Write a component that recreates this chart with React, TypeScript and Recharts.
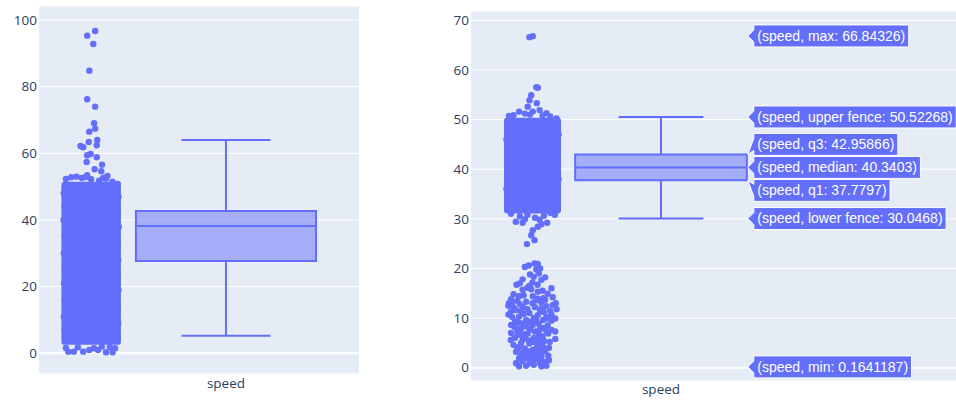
import { ComposedChart, XAxis, YAxis, CartesianGrid, Scatter, ReferenceArea, ReferenceLine } from 'recharts'

const CATEGORY = 'speed'
const BLUE = '#636efa'
const PLOT_BG = '#e5ecf6'
const TICK_COLOR = '#2a3f5f'
const TICK_FONT = '"Open Sans", verdana, arial, sans-serif'
const HOVER_FONT = 'Arial, "Liberation Sans", sans-serif'

// x layout in category units: box sits at 0, the jittered points sit at -1
const POINTS_X = -1
const BOX_HALF = 0.668
const WHISKER_HALF = 0.33
const JITTER_HALF = 0.197

// ---- left panel ----
const leftYTicks = [0, 20, 40, 60, 80, 100]
const leftBox = { lowerWhisker: 5.3, q1: 27.7, median: 38.2, q3: 42.7, upperWhisker: 64.0 }
// value spans where points are packed solid
const leftDense: [number, number][] = [[3.5, 50.5]]
// [jitter (-1..1), speed]
const leftPoints: [number, number][] = [
  [-0.15, 95.3], [0.15, 96.7], [0.08, 92.8], [-0.07, 84.8], [-0.15, 76.2], [0.15, 74.0],
  [0.11, 69.0], [0.15, 67.4], [-0.07, 66.5], [0.23, 64.0], [-0.09, 63.4], [0.21, 62.4],
  [-0.4, 62.2], [-0.3, 61.8], [-0.02, 59.8], [-0.15, 59.4], [0.21, 58.8], [-0.17, 57.4],
  [0.41, 56.6], [0.13, 55.2], [0.38, 54.6], [-0.15, 53.4], [0.61, 53.2], [0.56, 52.4], [1.0, 50.8],
  [-0.95, 52.3], [-0.75, 52.8], [-0.55, 53.0], [-0.35, 52.6], [-0.2, 52.9], [0.0, 52.2],
  [0.3, 51.8], [0.45, 52.6], [0.8, 51.5],
  [-0.86, 0.5], [-0.65, 0.5], [-0.3, 0.5], [-0.07, 1.0], [0.26, 1.0], [0.56, 0.3], [0.81, 0.3],
  [0.9, 1.5], [-0.5, 1.8], [0.4, 2.0], [0.1, 1.5], [-0.95, 1.6], [0.7, 1.9],
  // ragged sides of the packed block
  [-1.03, 48], [-1.0, 44], [-1.04, 40], [-1.0, 35], [-1.03, 30], [-1.0, 26], [-1.02, 21],
  [-1.0, 16], [-1.03, 11], [-1.0, 7], [1.03, 47], [1.0, 42], [1.04, 38], [1.0, 33],
  [1.02, 28], [1.0, 23], [1.03, 19], [1.0, 14], [1.02, 9], [1.0, 5],
]

// ---- right panel ----
const rightYTicks = [0, 10, 20, 30, 40, 50, 60, 70]
const rightBox = { lowerWhisker: 30.0468, q1: 37.7797, median: 40.3403, q3: 42.95866, upperWhisker: 50.52268 }
const rightDense: [number, number][] = [[31.7, 49.7]]
const rightPoints: [number, number][] = [
  [-0.12, 66.6], [0.01, 66.8], [0.15, 56.5], [0.21, 56.4], [-0.05, 54.9], [-0.12, 53.9],
  [0.17, 53.3], [-0.19, 52.6], [-0.53, 51.6], [0.55, 51.3], [-0.93, 50.7], [0.95, 50.2],
  [0.28, 51.9], [0.01, 51.6], [-0.75, 50.9], [-0.3, 51.2], [0.7, 50.6], [-0.1, 51.0], [0.4, 50.8],
  [-0.99, 31.8], [-0.66, 29.4], [-0.39, 29.2], [0.28, 29.8], [0.58, 29.2], [0.88, 30.8],
  [0.01, 27.7], [0.21, 28.4], [-0.05, 26.7], [0.08, 25.7], [-0.22, 24.9], [-0.85, 31.0],
  [-0.5, 30.5], [-0.2, 30.8], [0.1, 30.2], [0.45, 30.6], [0.7, 31.2], [-0.3, 29.9], [0.35, 28.9],
  [-1.03, 46], [-1.0, 41], [-1.03, 36], [1.03, 47], [1.0, 43], [1.03, 38], [1.0, 34],
  [0.08, 21.0], [0.21, 20.9], [0.15, 19.8], [-0.1, 18.8], [0.25, 19.0], [-0.39, 17.8],
  [0.35, 17.7], [-0.63, 16.7], [-0.12, 16.5], [0.75, 16.0], [-0.39, 15.7], [0.21, 15.3],
  [-0.53, 14.4], [0.01, 14.4], [0.42, 14.0], [-0.93, 13.0], [-0.25, 13.3], [0.15, 13.6],
  [0.92, 13.0], [-0.73, 12.0], [-0.39, 12.3], [0.35, 12.0], [0.55, 12.4], [0.95, 11.8],
  [-0.86, 11.3], [-0.12, 11.0], [0.21, 10.6], [-0.53, 10.3], [-0.69, 9.3], [-0.25, 9.6],
  [0.42, 9.6], [0.75, 9.5], [0.01, 8.6], [-0.46, 7.9], [0.28, 7.6], [-0.19, 6.9], [0.62, 6.9],
  [-0.59, 6.6], [-0.86, 5.6], [-0.39, 5.7], [0.21, 5.6], [0.68, 5.2], [-0.12, 4.9], [-0.53, 4.2],
  [0.42, 4.2], [0.01, 3.6], [-0.39, 3.0], [0.28, 3.0], [0.62, 2.4], [-0.53, 1.9], [-0.12, 1.9],
  [0.21, 1.7], [-0.53, 0.3], [-0.12, 0.9], [0.35, 0.3], [0.55, 0.4],
  [-0.3, 20.3], [0.0, 17.2], [0.5, 18.2], [-0.75, 14.8], [-0.05, 15.8], [0.6, 14.9],
  [-0.6, 13.5], [0.35, 13.2], [-0.95, 12.5], [0.1, 12.2], [0.8, 12.6], [-0.45, 11.4],
  [0.45, 11.2], [0.75, 10.7], [-0.8, 10.2], [0.05, 10.0], [-0.35, 8.9], [0.6, 8.5],
  [-0.7, 8.2], [0.25, 8.8], [-0.1, 7.7], [0.75, 7.6], [-0.85, 7.0], [0.4, 6.3], [-0.3, 6.1],
  [0.05, 6.0], [0.9, 5.8], [-0.75, 4.6], [0.2, 4.4], [0.65, 4.0], [-0.3, 3.9], [-0.65, 3.2],
  [0.5, 3.3], [-0.15, 2.6], [0.1, 2.3], [-0.4, 1.3], [0.45, 1.2], [0.05, 0.6], [-0.25, 0.4], [0.65, 1.5],
  [-0.8, 12.9], [-0.5, 12.8], [0.0, 13.0], [0.5, 13.7], [0.7, 11.4], [-0.65, 11.6], [-0.2, 11.8],
  [0.3, 11.5], [-0.95, 10.7], [-0.35, 10.8], [0.55, 10.2], [0.9, 9.9], [-0.55, 9.1], [-0.1, 9.2],
  [0.15, 9.5], [0.6, 9.9], [-0.85, 8.6], [-0.25, 8.3], [0.45, 8.0], [0.9, 7.3], [-0.6, 7.4],
  [0.1, 7.3], [0.55, 7.4], [-0.4, 6.8], [0.25, 6.5], [-0.7, 6.0], [-0.15, 5.5], [0.45, 5.4],
  [-0.45, 5.0], [0.05, 5.2], [0.35, 4.8], [-0.6, 3.8], [0.15, 3.9], [0.4, 3.7], [-0.2, 3.3],
  [0.05, 2.9], [-0.45, 2.4], [0.35, 2.3], [-0.3, 1.9], [0.1, 1.8], [-0.65, 0.9], [0.3, 0.9],
  [-0.05, 1.3], [0.2, 13.9], [-0.35, 14.6], [0.4, 15.5], [-0.2, 16.1], [0.2, 16.7], [-0.5, 17.0],
  [0.05, 18.3], [0.3, 20.0], [-0.15, 20.6], [-0.85, 13.8], [0.8, 14.2],
]
const rightHoverNames = ['max', 'upper fence', 'q3', 'median', 'q1', 'lower fence', 'min']
const rightHoverValues = [66.84326, 50.52268, 42.95866, 40.3403, 37.7797, 30.0468, 0.1641187]

const LABEL_H = 22
const LABEL_GAP = 23

let measureCtx: CanvasRenderingContext2D | null = null
function textWidth(text: string, font: string) {
  if (!measureCtx) measureCtx = document.createElement('canvas').getContext('2d')
  if (!measureCtx) return text.length * 7
  measureCtx.font = font
  return measureCtx.measureText(text).width
}

// push overlapping hover labels apart, like plotly does
function spreadLabels(values: number[], pxPerUnit: number, gap: number) {
  const items = values.map((v, i) => ({ i, pos: -v * pxPerUnit })).sort((a, b) => a.pos - b.pos)
  let groups = items.map((it) => ({ members: [it], center: it.pos }))
  let merged = true
  while (merged) {
    merged = false
    for (let k = 0; k < groups.length - 1; k++) {
      const a = groups[k]
      const b = groups[k + 1]
      const aBottom = a.center + ((a.members.length - 1) * gap) / 2
      const bTop = b.center - ((b.members.length - 1) * gap) / 2
      if (bTop - aBottom < gap) {
        const members = [...a.members, ...b.members]
        const center = members.reduce((s, m) => s + m.pos, 0) / members.length
        groups.splice(k, 2, { members, center })
        merged = true
        break
      }
    }
  }
  const shift = new Array(values.length).fill(0)
  groups.forEach((g) =>
    g.members.forEach((m, idx) => {
      shift[m.i] = g.center + (idx - (g.members.length - 1) / 2) * gap - m.pos
    })
  )
  return shift
}

const Dot = (p: any) => <circle cx={p.cx} cy={p.cy} r={3.2} fill={BLUE} />

const DenseShape = (p: any) => (
  <rect x={p.x - 3.2} y={p.y - 3.2} width={p.width + 6.4} height={p.height + 6.4} rx={3.2} fill={BLUE} />
)

const HoverLabel = (p: any) => {
  const { cx, cy, payload } = p
  const tx = cx + 1
  const dy = payload.shift
  const font = `14px ${HOVER_FONT}`
  const w = textWidth(payload.text, font) + 7
  const h = LABEL_H
  const d = `M0,0L6,${dy + 6}V${dy + h / 2}H${6 + w}V${dy - h / 2}H6V${dy - 6}Z`
  return (
    <g transform={`translate(${tx},${cy})`}>
      <path d={d} fill={BLUE} stroke="#fff" strokeWidth={1} />
      <text x={9.5} y={dy} dy="0.35em" fill="#fff" style={{ font }}>
        {payload.text}
      </text>
    </g>
  )
}

const tickStyle = { fill: TICK_COLOR, fontSize: 13.5, fontFamily: TICK_FONT }

interface PanelProps {
  width: number
  top: number
  xAxisHeight: number
  yAxisWidth: number
  xDomain: [number, number]
  yDomain: [number, number]
  yTicks: number[]
  box: { lowerWhisker: number; q1: number; median: number; q3: number; upperWhisker: number }
  dense: [number, number][]
  points: [number, number][]
  hoverNames?: string[]
  hoverValues?: number[]
  xTickMargin: number
}

const HEIGHT = 401

function Panel({ width, top, xAxisHeight, yAxisWidth, xDomain, yDomain, yTicks, box, dense, points, hoverNames, hoverValues, xTickMargin }: PanelProps) {
  const pointData = points.map(([j, v]) => ({ x: POINTS_X + j * JITTER_HALF, y: v }))
  const pxPerUnit = (HEIGHT - top - xAxisHeight) / (yDomain[1] - yDomain[0])
  let labelData: any[] = []
  if (hoverNames && hoverValues) {
    const shifts = spreadLabels(hoverValues, pxPerUnit, LABEL_GAP)
    labelData = hoverNames.map((n, i) => ({
      x: BOX_HALF,
      y: hoverValues[i],
      text: `(${CATEGORY}, ${n}: ${hoverValues[i]})`,
      shift: shifts[i],
    }))
  }
  const line = { stroke: BLUE, strokeWidth: 2 }
  return (
    <ComposedChart width={width} height={HEIGHT} margin={{ top, right: 0, bottom: 0, left: 0 }}>
      <CartesianGrid fill={PLOT_BG} fillOpacity={1} stroke="#fff" strokeWidth={1} vertical={false} />
      <XAxis
        type="number"
        dataKey="x"
        domain={xDomain}
        allowDataOverflow
        ticks={[0]}
        interval={0}
        tickFormatter={() => CATEGORY}
        axisLine={false}
        tickLine={false}
        tickSize={0}
        tickMargin={xTickMargin}
        height={xAxisHeight}
        tick={tickStyle}
      />
      <YAxis
        type="number"
        dataKey="y"
        domain={yDomain}
        allowDataOverflow
        ticks={yTicks}
        interval={0}
        axisLine={false}
        tickLine={false}
        tickSize={0}
        tickMargin={2}
        width={yAxisWidth}
        tick={tickStyle}
      />
      <ReferenceLine y={0} stroke="#fff" strokeWidth={2} />
      {dense.map(([lo, hi], i) => (
        <ReferenceArea key={i} x1={POINTS_X - JITTER_HALF} x2={POINTS_X + JITTER_HALF} y1={lo} y2={hi} shape={DenseShape} />
      ))}
      <Scatter data={pointData} isAnimationActive={false} shape={Dot} />
      <ReferenceArea
        x1={-BOX_HALF} x2={BOX_HALF} y1={box.q1} y2={box.q3}
        fill={BLUE} fillOpacity={0.5} stroke={BLUE} strokeWidth={2} strokeOpacity={1}
      />
      <ReferenceLine segment={[{ x: -BOX_HALF, y: box.median }, { x: BOX_HALF, y: box.median }]} {...line} />
      <ReferenceLine segment={[{ x: 0, y: box.q3 }, { x: 0, y: box.upperWhisker }]} {...line} />
      <ReferenceLine segment={[{ x: 0, y: box.q1 }, { x: 0, y: box.lowerWhisker }]} {...line} />
      <ReferenceLine segment={[{ x: -WHISKER_HALF, y: box.upperWhisker }, { x: WHISKER_HALF, y: box.upperWhisker }]} {...line} />
      <ReferenceLine segment={[{ x: -WHISKER_HALF, y: box.lowerWhisker }, { x: WHISKER_HALF, y: box.lowerWhisker }]} {...line} />
      {labelData.length > 0 && <Scatter data={labelData} isAnimationActive={false} shape={HoverLabel} />}
    </ComposedChart>
  )
}

export default function App() {
  return (
    <div style={{ position: 'absolute', left: 0, top: 0, width: 956, height: HEIGHT, background: '#fff', overflow: 'hidden' }}>
      <div style={{ position: 'absolute', left: 0, top: 0 }}>
        <Panel
          width={359}
          top={6}
          xAxisHeight={27}
          yAxisWidth={39}
          xDomain={[-1.387, 0.987]}
          yDomain={[-6.21, 104.2]}
          yTicks={leftYTicks}
          box={leftBox}
          dense={leftDense}
          points={leftPoints}
          xTickMargin={4}
        />
      </div>
      <div style={{ position: 'absolute', left: 431, top: 0 }}>
        <Panel
          width={525}
          top={11}
          xAxisHeight={20}
          yAxisWidth={40}
          xDomain={[-1.4786, 2.2957]}
          yDomain={[-2.68, 71.87]}
          yTicks={rightYTicks}
          box={rightBox}
          dense={rightDense}
          points={rightPoints}
          hoverNames={rightHoverNames}
          hoverValues={rightHoverValues}
          xTickMargin={3}
        />
      </div>
    </div>
  )
}
